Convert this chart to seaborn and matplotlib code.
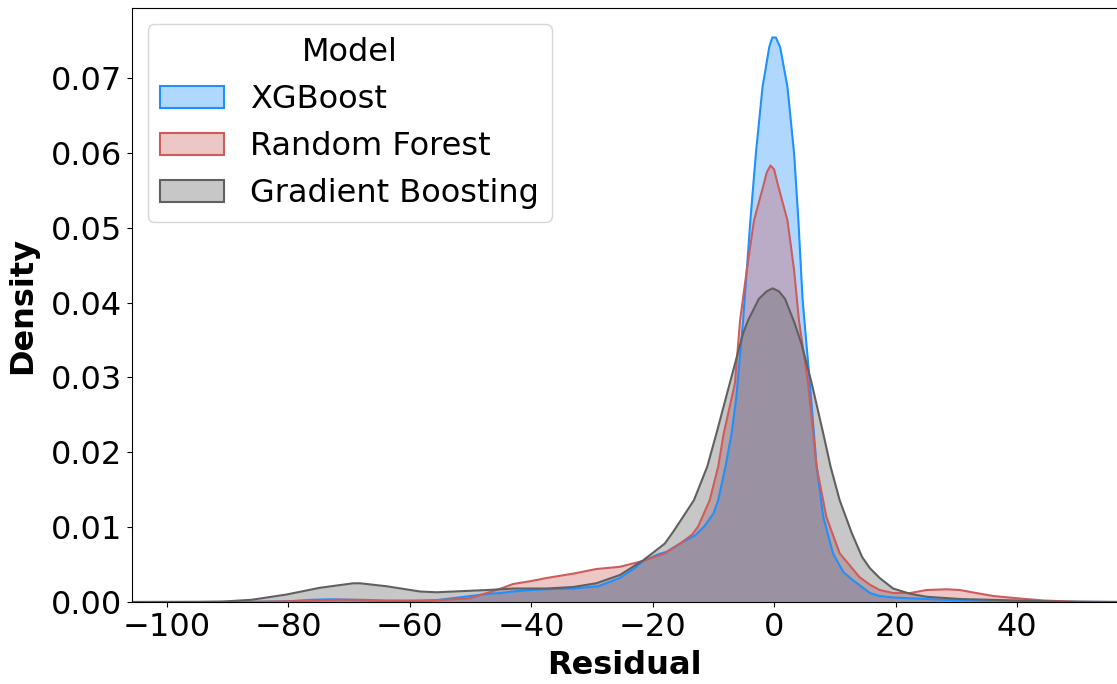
import matplotlib
matplotlib.use("Agg")
import matplotlib.pyplot as plt
from matplotlib.patches import Patch
import seaborn as sns
import pandas as pd

models = ["XGBoost", "Random Forest", "Gradient Boosting"]
line_colors = ["#1E90FF", "#CD5C5C", "#606060"]

xgb_x = [-106, -95, -85, -80, -76, -73, -70, -65, -60, -56, -53, -50, -47, -45, -43, -40, -37.5,
         -33, -29, -25.4, -23, -21.5, -19, -17.7, -15.5, -13, -11.5, -10, -9.2, -8, -7, -6.2,
         -5.6, -5.1, -3.9, -3.0, -1.9, -0.8, -0.3, 0.3, 1.0, 2.2, 3.3, 4.0, 4.7, 5.9, 7.0,
         8.1, 9.7, 11.4, 13.0, 15.8, 17.4, 19.6, 22.4, 27.8, 36, 45, 56.6]
xgb_y = [0.0, 0.0, 0.00003, 0.0001, 0.0003, 0.00036, 0.0003, 0.00015, 0.00012, 0.0002, 0.0005,
         0.0008, 0.0011, 0.0012, 0.0014, 0.0016, 0.0017, 0.0018, 0.0021, 0.0032, 0.0045, 0.0055,
         0.0064, 0.0067, 0.0078, 0.0089, 0.0101, 0.0118, 0.0136, 0.0181, 0.0225, 0.0275,
         0.0330, 0.0376, 0.0510, 0.0599, 0.0688, 0.0741, 0.0754, 0.0754, 0.0741, 0.0688, 0.0599,
         0.0510, 0.0403, 0.0292, 0.0181, 0.0114, 0.0065, 0.0040, 0.0029, 0.0012, 0.0008,
         0.0006, 0.0005, 0.0003, 0.00017, 0.00005, 0.0]

rf_x = [-106, -95, -85, -80, -75, -72, -68, -64, -58, -54, -50, -48.5, -46.5, -45, -43, -40, -37.5,
        -33, -29.3, -25.4, -21.5, -18, -15.5, -13.5, -12.5, -10.6, -9.2, -8.3, -6.45, -5.6, -4.5,
        -3.3, -1.8, -1.2, -0.6, 0.0, 0.7, 2.2, 3.3, 4.1, 5.6, 7.0, 8.6, 10.8, 14.1, 15.8, 17.4,
        19.6, 22.4, 25.1, 28.4, 30.6, 33.3, 36.1, 40, 44.4, 50, 56.6]
rf_y = [0.0, 0.0, 0.00003, 0.0001, 0.0002, 0.0003, 0.0003, 0.0002, 0.0002, 0.0003, 0.0005, 0.0009,
        0.0014, 0.0018, 0.0024, 0.0028, 0.0032, 0.0038, 0.0044, 0.0047, 0.0055, 0.0065, 0.0078,
        0.0090, 0.0101, 0.0136, 0.0181, 0.0225, 0.0292, 0.0376, 0.0443, 0.0510, 0.0555, 0.0574,
        0.0583, 0.0578, 0.0555, 0.0510, 0.0443, 0.0376, 0.0292, 0.0181, 0.0114, 0.0065, 0.0033,
        0.0023, 0.0016, 0.0012, 0.0012, 0.0016, 0.0017, 0.0016, 0.0012, 0.0008, 0.0005, 0.0002,
        0.00003, 0.0]

gb_x = [-106, -95, -91, -86, -80.3, -74.8, -69.3, -68.2, -63.8, -58.3, -55.6, -52.8, -47.3, -45,
        -42.9, -37.5, -33.1, -29.3, -25.4, -21.5, -18, -16.6, -15.3, -13.2, -11.0, -9.5, -7.3,
        -5.1, -4.3, -2.5, -1.2, -0.25, 0.8, 1.8, 3.4, 4.5, 6.2, 8.1, 9.3, 10.8, 12.8, 14.5,
        15.8, 17.4, 19.6, 22.4, 25.1, 30.6, 40, 47, 56.6]
gb_y = [0.0, 0.00002, 0.00005, 0.0003, 0.0010, 0.0019, 0.0025, 0.0025, 0.0021, 0.0014, 0.0013,
        0.0014, 0.0016, 0.0017, 0.0018, 0.0018, 0.0020, 0.0025, 0.0036, 0.0056, 0.0078, 0.0094,
        0.0110, 0.0136, 0.0181, 0.0225, 0.0292, 0.0359, 0.0376, 0.0405, 0.0415, 0.0419, 0.0415,
        0.0405, 0.0372, 0.0345, 0.0292, 0.0225, 0.0181, 0.0136, 0.0092, 0.0060, 0.0045, 0.0032,
        0.0018, 0.0011, 0.0007, 0.0004, 0.0002, 0.00005, 0.0]

x_ticks = [-100, -80, -60, -40, -20, 0, 20, 40]
y_ticks = [0.00, 0.01, 0.02, 0.03, 0.04, 0.05, 0.06, 0.07]

series = {"XGBoost": (xgb_x, xgb_y), "Random Forest": (rf_x, rf_y), "Gradient Boosting": (gb_x, gb_y)}
df = pd.concat([pd.DataFrame({"Residual": xs, "Density": ys, "Model": m})
                for m, (xs, ys) in series.items()], ignore_index=True)

W, H = 1117, 684
fig = plt.figure(figsize=(W / 100, H / 100), dpi=100)
left_px, right_px, top_px, bot_px = 131.7, 1117.5, 8.3, 602
ax = fig.add_axes([left_px / W, (H - bot_px) / H, (right_px - left_px) / W, (bot_px - top_px) / H])

palette = dict(zip(models, line_colors))
alpha = 0.35
for m in models:
    sub = df[df["Model"] == m]
    ax.fill_between(sub["Residual"], 0, sub["Density"], color=palette[m], alpha=alpha, lw=0)
    sns.lineplot(data=sub, x="Residual", y="Density", color=palette[m], lw=1.5,
                 estimator=None, sort=True, ax=ax, legend=False)

FS = 23
ax.set_xlim(-105.8, 56.56)
ax.set_ylim(0, 0.0793)
ax.set_xticks(x_ticks)
ax.set_yticks(y_ticks)
ax.set_yticklabels([f"{v:.2f}" for v in y_ticks])
ax.set_xticklabels([str(v).replace("-", "\u2212") for v in x_ticks])
ax.tick_params(labelsize=FS)
ax.set_xlabel("Residual", fontsize=FS, fontweight="bold", labelpad=5)
ax.set_ylabel("Density", fontsize=FS, fontweight="bold", labelpad=9)

handles = [Patch(facecolor=matplotlib.colors.to_rgba(palette[m], alpha),
                 edgecolor=palette[m], lw=1.5, label=m) for m in models]
ax.legend(handles=handles, title="Model", loc="upper left", fontsize=FS, title_fontsize=FS)

fig.savefig("out.png", dpi=100)
